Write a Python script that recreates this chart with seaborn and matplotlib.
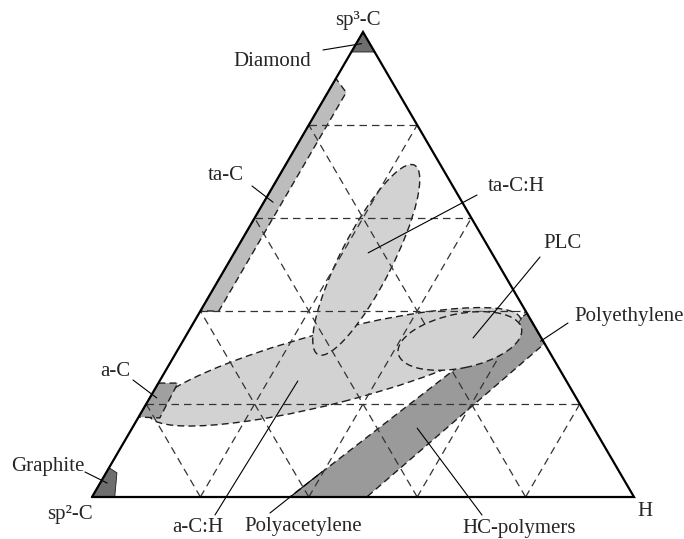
import numpy as np
import pandas as pd
import seaborn as sns
import matplotlib.pyplot as plt
from matplotlib.patches import Ellipse, Polygon

sns.set_style('white')
plt.rcParams['font.family'] = ['Liberation Serif', 'DejaVu Serif']

W, H_PX = 684, 539
TRI_H = 465 / 542  # drawn triangle is slightly flatter than equilateral

# corner labels
corner_labels = ['sp²-C', 'H', 'sp³-C']
grid_levels = [0.2, 0.4, 0.6, 0.8]

# regions, points given as (sp3 fraction, H fraction)
diamond = [(1.0, 0.0), (0.957, 0.0), (0.957, 0.043)]
ta_c = [(0.40, 0.0), (0.90, 0.0), (0.87, 0.034), (0.40, 0.034)]
a_c = [(0.245, 0.0), (0.245, 0.036), (0.170, 0.040), (0.172, 0.0)]
graphite = [(0.0, 0.0), (0.063, 0.0), (0.052, 0.020), (0.0, 0.042)]
hc_polymers = [(0.0, 0.365), (0.0, 0.507), (0.33, 0.67), (0.395, 0.605)]

# ellipse regions: centre (sp3, H), half axes (fraction of side), tilt in deg
ellipse_names = ['a-C:H', 'ta-C:H', 'PLC']
ellipse_centres = [(0.280, 0.308), (0.510, 0.251), (0.3355, 0.511)]
ellipse_axes = [(0.354, 0.066), (0.196, 0.048), (0.116, 0.050)]
ellipse_tilt = [14.5, 63, 11.5]

# labels and what they point at (sp3, H)
label_names = ['Diamond', 'ta-C', 'ta-C:H', 'PLC', 'Polyethylene', 'a-C',
               'Graphite', 'a-C:H', 'Polyacetylene', 'HC-polymers']
label_targets = [(0.975, 0.010), (0.634, 0.017), (0.525, 0.247), (0.342, 0.532),
                 (0.335, 0.660), (0.213, 0.013), (0.030, 0.013), (0.2495, 0.255),
                 (0.054, 0.397), (0.148, 0.526)]

# text layout in image pixels (x, y from top)
label_xy = [(272, 62), (226, 175), (516, 187), (562, 243), (629, 317), (115, 372),
            (48, 467), (198, 527), (303, 527), (519, 528)]
leader_start = [(323, 50), (252, 186), (477, 195), (540, 257), (568, 323), (133, 380),
                (85, 472), (215, 515), (270, 513), (482, 515)]
corner_xy = [(70, 514), (645, 512), (358, 20)]

LIGHT = '#d2d2d2'
MID = '#bcbcbc'
AC_GREY = '#a0a0a0'
BAND = '#9a9a9a'
DARK = '#6e6e6e'
EDGE = '#1e1e1e'
DASH = (0, (5, 3))


def cart(sp3, h):
    return h + sp3 / 2, sp3 * TRI_H


def poly(points):
    return [cart(s, h) for s, h in points]


fig = plt.figure(figsize=(W / 100, H_PX / 100), dpi=100)
ax = fig.add_axes([92 / W, 42 / H_PX, 542 / W, 465 / H_PX])
ax.set_xlim(0, 1)
ax.set_ylim(0, TRI_H)
ax.axis('off')

# filled regions underneath the grid
ax.add_patch(Polygon(poly(hc_polymers), closed=True, fc=BAND, ec=EDGE, lw=1.0, ls=DASH, zorder=1))
for name, c, (a, b), t in zip(ellipse_names[:2], ellipse_centres[:2], ellipse_axes[:2], ellipse_tilt[:2]):
    ax.add_patch(Ellipse(cart(*c), 2 * a, 2 * b, angle=t, fc=LIGHT, ec=EDGE, lw=1.0, ls=DASH, zorder=1.5))
ax.add_patch(Polygon(poly(ta_c), closed=True, fc=MID, ec=EDGE, lw=1.0, ls=DASH, zorder=2))
ax.add_patch(Polygon(poly(a_c), closed=True, fc=AC_GREY, ec=EDGE, lw=1.0, ls=DASH, zorder=2))
ax.add_patch(Polygon(poly(diamond), closed=True, fc=DARK, ec=EDGE, lw=0.6, zorder=2))
ax.add_patch(Polygon(poly(graphite), closed=True, fc=DARK, ec=EDGE, lw=0.6, zorder=2))

# dashed composition grid
rows = []
seg = 0
for k in grid_levels:
    for p, q in [((k, 0), (k, 1 - k)), ((0, k), (1 - k, k)), ((0, 1 - k), (1 - k, 0))]:
        for s, h in (p, q):
            x, y = cart(s, h)
            rows.append({'seg': seg, 'x': x, 'y': y})
        seg += 1
grid = pd.DataFrame(rows)
sns.lineplot(data=grid, x='x', y='y', units='seg', estimator=None, sort=False,
             color='#333333', lw=0.9, linestyle=(0, (6, 4)), ax=ax, zorder=3)
ax.set_xlabel('')
ax.set_ylabel('')

# PLC sits on top of the grid
c, (a, b), t = ellipse_centres[2], ellipse_axes[2], ellipse_tilt[2]
ax.add_patch(Ellipse(cart(*c), 2 * a, 2 * b, angle=t, fc=LIGHT, ec=EDGE, lw=1.0, ls=DASH, zorder=4))

# triangle outline
corners = [cart(0, 0), cart(0, 1), cart(1, 0), cart(0, 0)]
ax.plot([p[0] for p in corners], [p[1] for p in corners], color='black', lw=1.6,
        solid_joinstyle='miter', clip_on=False, zorder=6)

# labels with leader lines
for name, tgt, (lx, ly), (sx, sy) in zip(label_names, label_targets, label_xy, leader_start):
    fig.text(lx / W, 1 - ly / H_PX, name, ha='center', va='center', fontsize=15)
    ax.annotate('', xy=cart(*tgt), xycoords='data', xytext=(sx, H_PX - sy),
                textcoords='figure pixels',
                arrowprops=dict(arrowstyle='-', color='black', lw=0.8, shrinkA=0, shrinkB=0),
                annotation_clip=False, zorder=7)

for name, (lx, ly) in zip(corner_labels, corner_xy):
    fig.text(lx / W, 1 - ly / H_PX, name, ha='center', va='center', fontsize=15)

fig.savefig('out.png', dpi=100)
